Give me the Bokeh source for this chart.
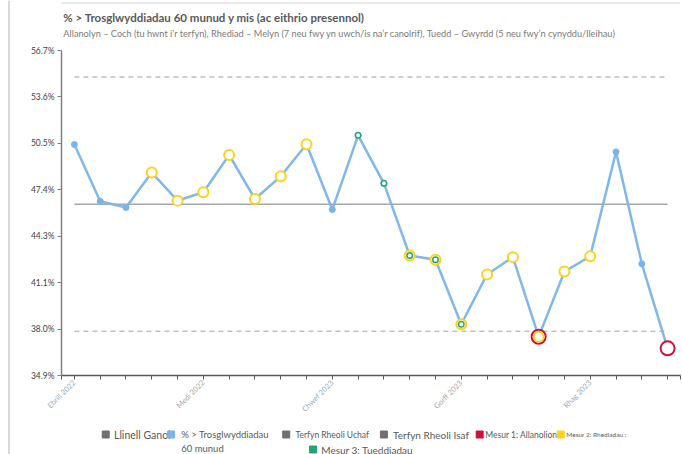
import math
from bokeh.plotting import figure
from bokeh.layouts import column, row
from bokeh.models import FixedTicker, ColumnDataSource, Range1d
from bokeh.core.properties import value
from bokeh.embed import file_html
from bokeh.resources import INLINE

# Monthly series, April 2022 to March 2024
months = ["Ebrill 2022", "Mai 2022", "Meh 2022", "Gorff 2022", "Awst 2022", "Medi 2022",
          "Hyd 2022", "Tach 2022", "Rhag 2022", "Ion 2023", "Chwef 2023", "Maw 2023",
          "Ebrill 2023", "Mai 2023", "Meh 2023", "Gorff 2023", "Awst 2023", "Medi 2023",
          "Hyd 2023", "Tach 2023", "Rhag 2023", "Ion 2024", "Chwef 2024", "Maw 2024"]
values = [50.39, 46.59, 46.17, 48.51, 46.63, 47.19, 49.69, 46.74, 48.26, 50.41, 46.03, 51.01,
          47.79, 42.95, 42.66, 38.34, 41.68, 42.84, 37.50, 41.87, 42.90, 49.90, 42.39, 36.72]
# SPC rule flags per month
outlier = [0, 0, 0, 0, 0, 0, 0, 0, 0, 0, 0, 0, 0, 0, 0, 0, 0, 0, 1, 0, 0, 0, 0, 1]
run     = [0, 0, 0, 1, 1, 1, 1, 1, 1, 1, 0, 0, 0, 1, 1, 1, 1, 1, 1, 1, 1, 0, 0, 0]
trend   = [0, 0, 0, 0, 0, 0, 0, 0, 0, 0, 0, 1, 1, 1, 1, 1, 0, 0, 0, 0, 0, 0, 0, 0]
centre = 46.39
upper_limit = 54.92
lower_limit = 37.86
# Month labels shown on the axis (every fifth month)
shown_months = ["Ebrill 2022", "Medi 2022", "Chwef 2023", "Gorff 2023", "Rhag 2023"]
y_min, y_max = 34.9, 56.7
y_tick_labels = ["34.9%", "38.0%", "41.1%", "44.3%", "47.4%", "50.5%", "53.6%", "56.7%"]

TITLE = "% > Trosglwyddiadau 60 munud y mis (ac eithrio presennol)"
SUBTITLE = ("Allanolyn \u2013 Coch (tu hwnt i\u2019r terfyn), Rhediad \u2013 Melyn (7 neu fwy yn uwch/is "
            "na\u2019r canolrif), Tuedd \u2013 Gwyrdd (5 neu fwy\u2019n cynyddu/lleihau)")

BLUE = "#78b4e8"
YELLOW = "#ffd21a"
GREEN = "#1fa675"
RED = "#d0103a"
GREY = "#595959"
FONT = "Lato"

n = len(values)
idx = list(range(n))

W, H = 682, 454
EDGE = 10            # width of the left rule strip
HEAD_H, LEG_H = 44, 34
MAIN_H = H - HEAD_H - LEG_H
INNER_W = W - EDGE


def blank(width, height, xr, yr):
    f = figure(width=width, height=height, output_backend="svg", toolbar_location=None,
               x_range=Range1d(*xr), y_range=Range1d(*yr),
               x_axis_type=None, y_axis_type=None,
               min_border=0, min_border_left=0, min_border_right=0,
               min_border_top=0, min_border_bottom=0)
    f.outline_line_color = None
    f.xgrid.visible = False
    f.ygrid.visible = False
    f.background_fill_color = "white"
    f.border_fill_color = "white"
    return f


def put_text(f, x, y, s, size, color=GREY, style="normal"):
    f.text(x=[x], y=[y], text=[s], text_font=value(FONT), text_font_size=size,
           text_color=color, text_font_style=style, text_baseline="middle", text_align="left")


# Left rule of the chart panel
edge = blank(EDGE, H, (0, EDGE), (H, 0))
edge.line([8.5, 8.5], [0, H], line_color="#d9d9d9", line_width=2)

# Heading
head = blank(INNER_W, HEAD_H, (EDGE, W), (HEAD_H, 0))
head.line([EDGE, W], [2.5, 2.5], line_color="#e8e8e8", line_width=2)
put_text(head, 12, 17, TITLE, "11.5px", color=GREY, style="bold")
put_text(head, 12, 33, SUBTITLE, "9.2px", color="#7a7a7a")

# Main chart
p = figure(width=INNER_W, height=MAIN_H, output_backend="svg", toolbar_location=None,
           x_range=(-0.5, n - 0.5), y_range=(y_min, y_max),
           min_border_left=61 - EDGE, min_border_right=2,
           min_border_top=50 - HEAD_H, min_border_bottom=MAIN_H - (375 - HEAD_H))
p.outline_line_color = None
p.xgrid.visible = False
p.ygrid.visible = False
p.background_fill_color = "white"
p.border_fill_color = "white"

step = (y_max - y_min) / (len(y_tick_labels) - 1)
y_ticks = [y_min + k * step for k in range(len(y_tick_labels))]
p.yaxis.ticker = FixedTicker(ticks=y_ticks)
p.yaxis.major_label_overrides = {t: lab for t, lab in zip(y_ticks, y_tick_labels)}
p.yaxis.minor_tick_line_color = None
p.yaxis.major_tick_in = 0
p.yaxis.major_tick_out = 4
p.yaxis.axis_line_color = "#7f7f7f"
p.yaxis.axis_line_width = 1.5
p.yaxis.major_tick_line_color = "#7f7f7f"
p.yaxis.major_label_text_font = FONT
p.yaxis.major_label_text_font_size = "8.5px"
p.yaxis.major_label_text_color = "#404040"
p.yaxis.major_label_standoff = 3

x_ticks = [-0.5] + idx + [n - 0.5]
x_over = {t: "" for t in x_ticks}
for i, m in enumerate(months):
    if m in shown_months:
        x_over[i] = m
p.xaxis.ticker = FixedTicker(ticks=x_ticks)
p.xaxis.major_label_overrides = x_over
p.xaxis.major_label_orientation = math.pi / 4
p.xaxis.minor_tick_line_color = None
p.xaxis.major_tick_in = 0
p.xaxis.major_tick_out = 4
p.xaxis.axis_line_color = "#595959"
p.xaxis.axis_line_width = 1.5
p.xaxis.major_tick_line_color = "#595959"
p.xaxis.major_label_text_font = FONT
p.xaxis.major_label_text_font_size = "7.5px"
p.xaxis.major_label_text_color = "#a0a6b0"
p.xaxis.major_label_standoff = 2

# Centre line and control limits
p.line(idx, [upper_limit] * n, line_color="#bfbfbf", line_width=1.5, line_dash="5 4")
p.line(idx, [lower_limit] * n, line_color="#bfbfbf", line_width=1.5, line_dash="5 4")
p.line(idx, [centre] * n, line_color="#a6a6a6", line_width=1.5)

# Series
p.line(idx, values, line_color=BLUE, line_width=2.5, line_alpha=0.95)
p.scatter(idx, values, size=6, fill_color=BLUE, line_color=BLUE)


def flagged(flags):
    return ColumnDataSource(dict(x=[i for i in idx if flags[i]],
                                 y=[values[i] for i in idx if flags[i]]))


p.scatter("x", "y", source=flagged(outlier), size=14, fill_color="white",
          line_color=RED, line_width=2)
p.scatter("x", "y", source=flagged(run), size=10, fill_color="white",
          line_color=YELLOW, line_width=2)
p.scatter("x", "y", source=flagged(trend), size=5.5, fill_color="white",
          line_color=GREEN, line_width=1.5)

# Legend strip
leg = blank(INNER_W, LEG_H, (EDGE, W), (H, H - LEG_H))
legend_items = [
    (55, 434, "#6f6f6f", "Llinell Ganol", "10.5px", 67),
    (126, 434, BLUE, "% > Trosglwyddiadau", "9.5px", 140),
    (251, 434, "#6f6f6f", "Terfyn Rheoli Uchaf", "8.5px", 264),
    (357, 434, "#6f6f6f", "Terfyn Rheoli Isaf", "10px", 370),
    (461, 434, RED, "Mesur 1: Allanolion", "8.5px", 470),
    (549, 434, YELLOW, "Mesur 2: Rhediadau ;", "6.5px", 558),
    (280, 449, GREEN, "Mesur 3: Tueddiadau", "10px", 292),
]
for sx, sy, col, lab, fs, tx in legend_items:
    leg.scatter([sx + 3], [sy], marker="square", size=7, fill_color=col, line_color=col)
    put_text(leg, tx, sy, lab, fs)
put_text(leg, 140, 448, "60 munud", "9.5px")

layout = row(edge, column(head, p, leg, spacing=0), spacing=0)
open("out.html", "w").write(file_html(layout, INLINE))
